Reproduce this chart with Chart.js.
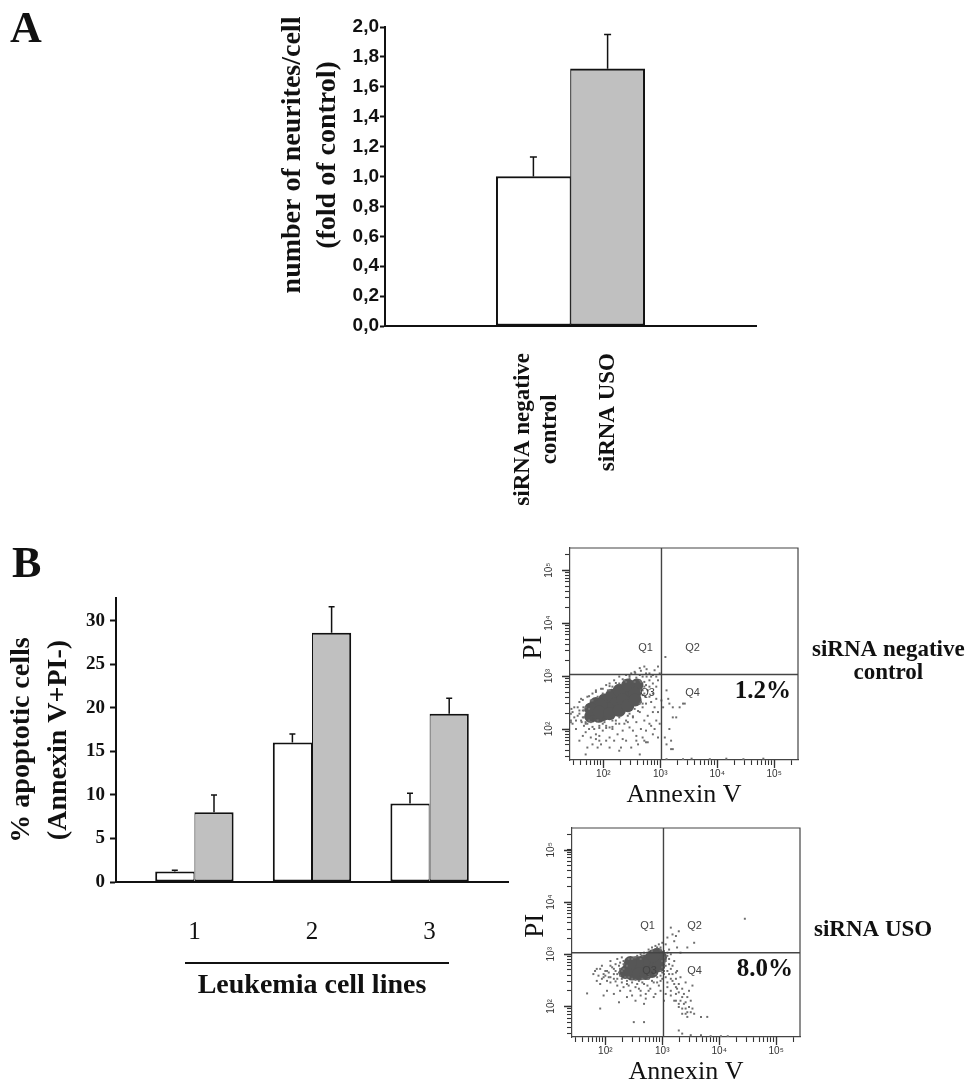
<!DOCTYPE html>
<html><head><meta charset="utf-8">
<script src="https://cdn.jsdelivr.net/npm/chart.js@4"></script>
<style>
html,body{margin:0;padding:0;background:#fff;overflow:hidden;}
body{width:974px;height:1085px;position:relative;}
canvas{position:absolute;}
</style></head><body>
<canvas id="cA" width="780" height="530" style="left:0;top:0"></canvas>
<canvas id="cB" width="530" height="500" style="left:0;top:530px"></canvas>
<canvas id="cF1" width="469" height="280" style="left:505px;top:535px"></canvas>
<canvas id="cF2" width="469" height="270" style="left:507px;top:815px"></canvas>
<script>
// ---------------- DATA ----------------
// Panel A
const aCategories = [['siRNA negative', 'control'], ['siRNA USO']];
const aValues = [1.00, 1.72];
const aErrors = [0.13, 0.23];

// Panel B bar chart
const bCategories = ['1', '2', '3'];
const bSeries = ['siRNA negative control', 'siRNA USO'];
const bControl = [1.2, 16.0, 9.0];
const bControlErr = [0.15, 1.0, 1.2];
const bUSO = [8.0, 28.6, 19.3];
const bUSOErr = [2.0, 3.0, 1.8];

// Panel B flow cytometry (values given as log10 of fluorescence: [Annexin V, PI])
const facsRange = [26, 262144];
const facsGateAnnexin = 1050;
const facsGatePI = 1070;
const facsDecades = [1, 2, 3, 4, 5];
const facsMultipliers = [1, 2, 3, 4, 5, 6, 7, 8, 9];
const facsLabelDecades = [2, 3, 4, 5];
const f1Percent = '1.2%';
const f2Percent = '8.0%';
const f1Side = ['siRNA negative', 'control'];
const f2Side = ['siRNA USO'];

const f1Core = [[1.81,2.32],[1.93,2.38],[2.05,2.45],[2.16,2.51],[2.28,2.59],[2.40,2.67],[2.52,2.75],[2.59,2.83],
[1.99,2.27],[2.14,2.34],[2.28,2.41],[2.40,2.49],[2.49,2.59],[1.87,2.48],[2.02,2.55],[2.15,2.64],[2.28,2.73],
[2.43,2.83],[1.78,2.24],[1.92,2.24],[1.87,2.32],[2.22,2.48],[2.34,2.55],[2.08,2.38],[2.55,2.67],[1.96,2.45],[1.78,2.38],
[1.93,2.32],[2.11,2.29],[2.28,2.35],[2.43,2.44],[2.56,2.55]];
const f1Dots = [
[1.46,2.32],[1.49,2.22],[1.55,2.41],[1.58,2.51],[1.61,2.16],[1.64,2.35],[1.66,2.06],[1.52,2.00],[1.69,1.94],[1.58,1.78],
[1.75,2.00],[1.78,1.84],[1.87,1.90],[1.93,1.78],[1.72,1.65],[1.99,1.97],[2.05,2.06],[2.11,1.84],[2.16,2.00],[2.22,2.10],
[2.25,1.90],[2.34,1.97],[2.40,2.16],[2.46,2.03],[2.31,1.65],[2.52,2.22],[2.58,2.13],[2.64,2.32],[2.69,2.41],[2.75,2.48],
[2.78,2.25],[2.81,2.61],[2.87,2.67],[2.90,2.41],[2.93,2.80],[2.84,2.99],[2.75,3.05],[2.69,2.99],[2.90,3.11],[2.96,3.18],
[2.64,3.02],[2.58,2.97],[2.66,2.89],[2.75,2.83],[2.81,2.92],[2.87,2.86],[2.72,2.67],[2.78,2.73],[2.93,2.57],[2.96,2.32],
[2.99,2.10],[2.93,2.16],[2.87,1.90],[2.69,1.84],[2.58,1.87],[2.40,1.78],[2.49,1.65],[2.11,1.65],[1.96,1.71],[1.81,1.71],
[1.64,2.22],[1.69,2.41],[1.61,2.57],[1.72,2.61],[1.81,2.67],[1.87,2.73],[1.96,2.76],[2.05,2.83],[2.11,2.86],[2.19,2.92],
[2.28,2.99],[2.40,3.02],[2.49,3.05],[2.55,3.08],[2.64,3.15],[2.72,3.18],[3.09,3.36],[3.02,2.54],[3.05,2.41],[3.11,2.73],
[3.16,2.48],[3.22,2.22],[3.28,2.22],[3.34,2.41],[3.43,2.48],[3.16,2.00],[3.19,1.62],[3.08,1.84],[3.11,1.71],[2.72,1.78],
[2.61,1.71],[3.22,2.41],[3.40,2.48],[3.14,2.57],[3.19,1.78],[3.22,1.62],
[3.11,1.43],[3.40,1.43],[3.55,1.44],[3.87,1.43],[4.16,1.44],[4.46,1.43],[4.81,1.44],
[1.43,2.29],[1.43,2.13],[1.44,2.38],
[1.69,1.52],[1.90,1.65],[2.28,1.59],[2.64,1.52],[2.75,1.75],
[1.78,2.13],[1.90,2.16],[2.02,2.13],[2.16,2.16],[2.28,2.22],[2.46,2.29],[2.55,2.38],[2.66,2.51],[2.69,2.64],[2.72,2.80],
[2.66,2.73],[1.66,2.22],[1.69,2.13],[1.58,2.29],[1.75,2.38],[1.78,2.54],[1.90,2.61],[1.99,2.67],[2.08,2.73],[2.16,2.80],
[2.28,2.86],[2.37,2.92],[2.46,2.96],[2.55,2.89],[2.81,2.80],[2.84,2.51],[2.87,2.32],[2.81,2.10],[2.72,2.16],[2.66,2.00],
[2.52,1.97],[2.37,2.10],[2.11,2.03],[1.93,2.06],[1.84,2.00],[1.72,2.10],
[1.69,2.10],[1.81,2.04],[1.93,2.02],[2.05,2.02],[2.16,2.04],[2.28,2.10],[2.43,2.13],[2.52,2.24],[2.61,2.34],[2.69,2.48],
[2.74,2.61],[1.64,2.55],[1.75,2.62],[1.87,2.70],[1.99,2.76],[2.11,2.81],[2.22,2.87],[2.34,2.94],[2.46,3.00],[2.56,3.06],
[2.66,3.10],[2.76,3.13],[2.72,2.89],[2.76,2.99],[2.81,3.05],[2.87,3.02],[2.93,2.99],[2.96,2.92],[2.99,3.05],
[1.58,2.35],[1.55,2.25],[1.62,2.13],[1.65,2.41],[1.75,2.16],[1.99,2.10],[2.22,2.16],[2.43,2.25],[2.64,2.48],[2.69,2.73],
[2.64,2.92],[2.40,2.89],[2.11,2.73],[1.81,2.54],[1.66,2.35],[1.52,2.16],[1.46,2.10],[1.64,1.87],[1.87,1.81],[2.05,1.78],
[2.19,1.78],[2.34,1.81],[2.58,1.78],[2.75,1.97],[2.84,2.06],[2.90,2.00],[2.96,1.84],[2.78,1.75],[1.93,1.87],[1.49,2.41],
[1.43,2.16]];

const f2Core = [[2.41,2.72],[2.53,2.72],[2.65,2.73],[2.76,2.78],[2.88,2.84],[2.97,2.94],[2.91,3.00],[2.79,2.91],
[2.68,2.87],[2.56,2.84],[2.47,2.62],[2.59,2.62],[2.71,2.63],[2.82,2.67],[2.35,2.65],[2.44,2.84],[2.94,2.78],[2.84,2.97]];
const f2Dots = [
[1.79,2.62],[1.82,2.68],[1.88,2.59],[1.91,2.72],[1.94,2.53],[1.97,2.62],[2.03,2.68],[2.06,2.56],[2.09,2.46],[2.12,2.75],
[2.15,2.62],[2.18,2.68],[2.21,2.53],[2.24,2.78],[2.26,2.59],[2.29,2.46],[2.32,2.81],[2.38,2.49],[2.41,2.40],[2.47,2.46],
[2.53,2.37],[2.59,2.49],[2.62,2.30],[2.68,2.43],[2.71,2.24],[2.76,2.53],[2.79,2.34],[2.85,2.46],[2.88,2.24],[2.91,2.56],
[2.94,2.40],[2.97,2.49],[3.00,2.65],[3.03,2.78],[1.91,2.43],[2.03,2.30],[2.15,2.24],[2.26,2.30],[2.38,2.18],[2.53,2.11],
[2.68,2.05],[1.68,2.25],[1.91,1.96],[2.50,1.70],[2.68,1.70],[2.24,2.08],[1.97,2.21],[1.85,2.49],[2.09,2.87],[2.21,2.91],
[2.29,2.94],[2.76,3.09],[2.82,3.13],[2.88,3.16],[2.94,3.19],[2.97,3.13],[3.00,3.22],[2.68,3.03],[2.62,3.00],[2.56,2.97],
[2.50,2.94],
[3.06,3.19],[3.09,3.32],[3.15,3.51],[3.18,3.38],[3.21,3.25],[3.24,3.35],[3.29,3.44],[3.26,3.13],[3.12,3.09],[3.44,3.13],
[3.56,3.22],[3.32,3.03],[4.45,3.68],
[3.03,2.94],[3.06,2.87],[3.09,2.97],[3.12,2.81],[3.15,2.72],[3.18,2.62],[3.21,2.87],[3.24,2.53],[3.26,2.68],[3.29,2.43],
[3.32,2.56],[3.35,2.34],[3.38,2.24],[3.41,2.46],[3.44,2.18],[3.47,2.30],[3.50,2.11],[3.53,2.40],[3.38,2.05],[3.41,1.96],
[3.44,1.89],[3.35,1.86],[3.29,1.99],[3.21,2.11],[3.15,2.30],[3.09,2.46],[3.06,2.24],[3.03,2.11],[3.24,2.24],[3.32,2.11],
[3.53,1.96],[3.79,1.80],[3.68,1.80],[3.56,1.86],[3.15,2.53],[3.21,2.43],[3.26,2.34],[3.09,2.68],
[3.29,1.54],[3.35,1.48],[3.50,1.45],[3.68,1.45],[3.85,1.43],[4.03,1.43],[4.15,1.43],
[2.35,2.56],[2.29,2.68],[2.38,2.78],[2.41,2.56],[2.53,2.51],[2.65,2.53],[2.76,2.59],[2.88,2.62],[2.97,2.68],[3.00,2.87],
[2.62,2.91],[2.47,2.91],[2.26,2.72],[2.21,2.62],[2.15,2.53],[2.03,2.49],[2.00,2.59],
[1.85,2.72],[1.94,2.78],[2.00,2.68],[2.09,2.78],[2.18,2.81],[2.26,2.84],[2.32,2.72],[2.24,2.65],[2.15,2.72],[2.06,2.65],
[1.97,2.56],[2.09,2.56],[2.18,2.48],[2.29,2.53],[2.38,2.43],[2.47,2.53],[2.56,2.43],[2.65,2.46],[2.74,2.40],[2.82,2.49],
[2.91,2.46],[3.00,2.53],[2.97,2.59],[3.03,2.62],[3.03,2.68],[3.00,2.75],[3.04,2.84],[2.59,2.34],[2.44,2.30],[2.32,2.37],
[2.21,2.40],[2.76,2.30],[2.85,2.18],[2.97,2.30],[2.71,2.15],[2.62,2.21],[2.47,2.21],[2.82,3.06],[2.74,3.03],[2.65,2.97],
[2.53,2.94],[2.41,2.91],[2.32,2.87],[3.03,3.06],[2.97,3.09],[2.91,3.13],
[3.06,2.56],[3.12,2.62],[3.18,2.49],[3.24,2.37],[3.29,2.27],[3.35,2.18],[3.41,2.08],[3.47,1.99],[3.50,1.89],[3.09,2.37],
[3.15,2.21],[3.24,2.11],[3.29,2.05],[3.35,1.96],[3.41,1.86],[3.44,1.80],[3.12,2.91],[3.18,2.78],[3.24,2.65],[3.06,2.78],
[3.09,3.03],[3.15,3.00]];

// ---------------- STYLE ----------------
const SERIF = '"Liberation Serif", "Times New Roman", serif';
const SANS = '"Liberation Sans", Arial, sans-serif';
const INK = '#111';
Chart.defaults.font.family = SANS;
Chart.defaults.color = INK;
Chart.defaults.animation = false;
Chart.defaults.events = [];
Chart.defaults.plugins.legend.display = false;
Chart.defaults.plugins.tooltip.enabled = false;

const SUP = {1: '\u00B9', 2: '\u00B2', 3: '\u00B3', 4: '\u2074', 5: '\u2075'};
const isDecade = v => Math.abs(Math.log10(v) - Math.round(Math.log10(v))) < 1e-9;
const supLabel = v => '10' + SUP[Math.round(Math.log10(v))];
const facsTicks = [];
facsDecades.forEach(d => facsMultipliers.forEach(m => {
  const v = m * Math.pow(10, d);
  if (v > facsRange[0] && v < facsRange[1]) facsTicks.push(v);
}));

// ---------------- PLUGINS ----------------
function errorBars(cfg) {
  return { id: 'errorBars', afterDatasetsDraw(chart) {
    const ctx = chart.ctx, y = chart.scales.y;
    chart.data.datasets.forEach((ds, di) => {
      if (!ds.errors) return;
      chart.getDatasetMeta(di).data.forEach((bar, i) => {
        const top = y.getPixelForValue(ds.data[i].y + ds.errors[i]);
        ctx.save();
        ctx.strokeStyle = INK; ctx.lineWidth = cfg.width;
        ctx.beginPath();
        ctx.moveTo(bar.x, bar.y); ctx.lineTo(bar.x, top);
        ctx.moveTo(bar.x - cfg.cap / 2, top); ctx.lineTo(bar.x + cfg.cap / 2, top);
        ctx.stroke(); ctx.restore();
      });
    });
  }};
}
function freeText(items) {
  return { id: 'freeText', afterDraw(chart) {
    const ctx = chart.ctx;
    items.forEach(it => {
      ctx.save();
      ctx.font = it.font; ctx.fillStyle = INK;
      ctx.textAlign = it.align || 'center'; ctx.textBaseline = it.baseline || 'middle';
      ctx.translate(it.x, it.y);
      if (it.rot) ctx.rotate(it.rot * Math.PI / 180);
      [].concat(it.text).forEach((l, j) => ctx.fillText(l, 0, j * (it.lh || 0)));
      ctx.restore();
    });
  }};
}
function catLabels(cfg) {
  return { id: 'catLabels', afterDraw(chart) {
    const ctx = chart.ctx, x = chart.scales.x, top = chart.chartArea.bottom + cfg.gap;
    aCategories.forEach((lines, i) => {
      const px = x.getPixelForValue(i + 1);
      ctx.save();
      ctx.font = cfg.font; ctx.fillStyle = INK; ctx.textAlign = 'center'; ctx.textBaseline = 'middle';
      const w = Math.max(...lines.map(l => ctx.measureText(l).width));
      ctx.translate(px, top); ctx.rotate(-Math.PI / 2);
      lines.forEach((l, j) => ctx.fillText(l, -w / 2, (j - (lines.length - 1) / 2) * cfg.lh + (lines.length > 1 ? cfg.shift : 0)));
      ctx.restore();
    });
  }};
}
const underline = { id: 'underline', afterDraw(chart) {
  const {ctx, chartArea: ca} = chart;
  const cx = (ca.left + ca.right) / 2 + 5, y = ca.bottom + 81;
  ctx.save(); ctx.strokeStyle = INK; ctx.lineWidth = 2;
  ctx.beginPath(); ctx.moveTo(cx - 132, y); ctx.lineTo(cx + 132, y); ctx.stroke(); ctx.restore();
}};
function facsDecor(cfg) {
  return { id: 'facsDecor', afterDraw(chart) {
    const {ctx, chartArea: ca, scales: {x, y}} = chart;
    ctx.save();
    ctx.strokeStyle = '#444'; ctx.lineWidth = 1.2;
    ctx.beginPath(); ctx.moveTo(ca.left, ca.top); ctx.lineTo(ca.right, ca.top); ctx.lineTo(ca.right, ca.bottom); ctx.stroke();
    // longer marks at the decades
    ctx.strokeStyle = '#333'; ctx.lineWidth = 1.3;
    ctx.beginPath();
    facsLabelDecades.forEach(p => {
      const v = Math.pow(10, p);
      const px = Math.round(x.getPixelForValue(v)) + 0.5, py = Math.round(y.getPixelForValue(v)) + 0.5;
      ctx.moveTo(px, ca.bottom); ctx.lineTo(px, ca.bottom + 8);
      ctx.moveTo(ca.left, py); ctx.lineTo(ca.left - 8, py);
    });
    ctx.stroke();
    ctx.fillStyle = '#333'; ctx.font = '10px ' + SANS; ctx.textAlign = 'center'; ctx.textBaseline = 'middle';
    facsLabelDecades.forEach(p => {
      const py = y.getPixelForValue(Math.pow(10, p));
      ctx.save(); ctx.translate(ca.left - 21, py); ctx.rotate(-Math.PI / 2);
      ctx.fillText(supLabel(Math.pow(10, p)), 0, 0); ctx.restore();
    });
    const gx = x.getPixelForValue(facsGateAnnexin), gy = y.getPixelForValue(facsGatePI);
    ctx.font = '11px ' + SANS; ctx.fillStyle = '#444';
    ctx.fillText('Q1', gx - 16, gy - 27);
    ctx.fillText('Q2', gx + 31, gy - 27);
    ctx.fillText('Q3', gx - 14, gy + 18);
    ctx.fillText('Q4', gx + 31, gy + 18);
    ctx.fillStyle = INK;
    ctx.font = 'bold 25px ' + SERIF; ctx.textAlign = 'right';
    ctx.fillText(cfg.pct, ca.right - 7, gy + 17);
    ctx.save(); ctx.translate(ca.left - 36, gy - 27); ctx.rotate(-Math.PI / 2);
    ctx.font = '27px ' + SERIF; ctx.textAlign = 'center'; ctx.fillText('PI', 0, 0); ctx.restore();
    ctx.font = 'bold 23px ' + SERIF; ctx.textAlign = 'center';
    const w = Math.max(...cfg.side.map(l => ctx.measureText(l).width));
    cfg.side.forEach((l, j) => ctx.fillText(l, ca.right + 14 + w / 2, ca.top + 102 + j * 23));
    ctx.restore();
  }};
}

// ---------------- PANEL A ----------------
new Chart(document.getElementById('cA'), {
  type: 'bar',
  data: { datasets: [{
    data: aValues.map((v, i) => ({x: i + 1, y: v})),
    errors: aErrors,
    backgroundColor: ['#ffffff', '#c0c0c0'],
    borderColor: INK,
    borderWidth: c => c.dataIndex === 0 ? {top: 2, left: 2, right: 1, bottom: 2} : {top: 2, left: 1, right: 2, bottom: 2},
    borderSkipped: false, barPercentage: 1, categoryPercentage: 1
  }]},
  options: {
    responsive: false,
    layout: {padding: {left: 278, top: 27, right: 24, bottom: 4}},
    scales: {
      x: {type: 'linear', min: -1, max: 4, offset: false,
          afterBuildTicks: s => { s.ticks = aCategories.map((c, i) => ({value: i + 1})); },
          grid: {display: false, drawTicks: false}, ticks: {display: false},
          border: {display: true, color: INK, width: 2},
          afterFit: s => { s.height = 200; }},
      y: {min: 0, max: 2,
          ticks: {stepSize: 0.2, padding: 1, color: INK, font: {family: SANS, size: 19, weight: 'bold'},
                  callback: v => Number(v).toFixed(1).replace('.', ',')},
          grid: {drawOnChartArea: false, drawTicks: true, tickLength: 5, tickWidth: 2, tickColor: INK},
          border: {color: INK, width: 2},
          afterFit: s => { s.width = 107; }}
    }
  },
  plugins: [errorBars({width: 1.5, cap: 7}), catLabels({gap: 27, font: 'bold 23px ' + SERIF, lh: 27, shift: 3}),
    freeText([
      {text: 'A', x: 10, y: 42, font: 'bold 44px ' + SERIF, align: 'left', baseline: 'alphabetic'},
      {text: ['number of neurites/cell', '(fold of control)'], x: 293, y: 155, rot: -90, lh: 35, font: 'bold 28px ' + SERIF}
    ])]
});

// ---------------- PANEL B (bars) ----------------
new Chart(document.getElementById('cB'), {
  type: 'bar',
  data: { datasets: [
    {label: bSeries[0], data: bControl.map((v, i) => ({x: i + 1, y: v})), errors: bControlErr,
     backgroundColor: '#ffffff', borderColor: INK, borderWidth: {top: 2, left: 2, right: 1, bottom: 2},
     borderSkipped: false, barPercentage: 1, categoryPercentage: 2 / 3},
    {label: bSeries[1], data: bUSO.map((v, i) => ({x: i + 1, y: v})), errors: bUSOErr,
     backgroundColor: '#c0c0c0', borderColor: INK, borderWidth: {top: 2, left: 1, right: 2, bottom: 2},
     borderSkipped: false, barPercentage: 1, categoryPercentage: 2 / 3}
  ]},
  options: {
    responsive: false,
    layout: {padding: {left: 0, top: 68, right: 22, bottom: 0}},
    scales: {
      x: {type: 'linear', min: 1 / 3, max: 11 / 3, offset: false,
          afterBuildTicks: s => { s.ticks = bCategories.map((c, i) => ({value: i + 1})); },
          ticks: {autoSkip: false, maxRotation: 0, padding: 35, color: INK, font: {family: SERIF, size: 25},
                  callback: (v, i) => bCategories[i]},
          grid: {display: false, drawTicks: false},
          border: {display: true, color: INK, width: 2},
          title: {display: true, text: 'Leukemia cell lines', color: INK,
                  font: {family: SERIF, size: 28, weight: 'bold'}, padding: {top: 0, bottom: 27}},
          afterFit: s => { s.height = 148; }},
      y: {min: 0, max: 32.6,
          ticks: {stepSize: 5, includeBounds: false, padding: 5, color: INK, font: {family: SERIF, size: 19, weight: 'bold'}},
          grid: {drawOnChartArea: false, drawTicks: true, tickLength: 6, tickWidth: 2, tickColor: INK},
          border: {color: INK, width: 2},
          title: {display: true, text: ['% apoptotic cells', '(Annexin V+PI-)'], color: INK,
                  font: {family: SERIF, size: 28, weight: 'bold', lineHeight: 1.3}, padding: {top: 4, bottom: 0}},
          afterFit: s => { s.width = 116; }}
    }
  },
  plugins: [errorBars({width: 1.5, cap: 6}), underline,
    freeText([{text: 'B', x: 12, y: 47, font: 'bold 44px ' + SERIF, align: 'left', baseline: 'alphabetic'}])]
});

// ---------------- PANEL B (flow cytometry) ----------------
function facsAxis(extra) {
  return Object.assign({
    type: 'logarithmic', min: facsRange[0], max: facsRange[1],
    afterBuildTicks: s => { s.ticks = facsTicks.map(v => ({value: v})); },
    grid: {drawOnChartArea: false, drawTicks: true, tickLength: 5, tickColor: '#333', tickWidth: 1.1},
    border: {color: '#444', width: 1.2}
  }, extra);
}
function facsChart(id, core, dots, pct, side, lay) {
  const pts = a => a.map(p => ({x: Math.pow(10, p[0]), y: Math.pow(10, p[1])}));
  return new Chart(document.getElementById(id), {
    type: 'scatter',
    data: { datasets: [
      {type: 'line', data: [{x: facsGateAnnexin, y: facsRange[0]}, {x: facsGateAnnexin, y: facsRange[1]}],
       borderColor: '#444', borderWidth: 1.4, pointRadius: 0, showLine: true},
      {type: 'line', data: [{x: facsRange[0], y: facsGatePI}, {x: facsRange[1], y: facsGatePI}],
       borderColor: '#444', borderWidth: 1.4, pointRadius: 0, showLine: true},
      {data: pts(dots), pointStyle: 'rect', pointRadius: 1.4, backgroundColor: '#6e6e6e', borderWidth: 0},
      {data: pts(core), pointRadius: 6.5, backgroundColor: '#565656', borderWidth: 0}
    ]},
    options: {
      responsive: false,
      layout: {padding: {left: 0, top: 13, right: 176, bottom: 0}},
      scales: {
        x: facsAxis({position: 'bottom',
          ticks: {autoSkip: false, maxRotation: 0, padding: 3, color: '#333', font: {family: SANS, size: 10},
                  callback: v => isDecade(v) ? supLabel(v) : ''},
          title: {display: true, text: 'Annexin V', color: INK, font: {family: SERIF, size: 26, lineHeight: 1},
                  padding: {top: 0, bottom: lay.titlePad}},
          afterFit: s => { s.height = lay.xh; }}),
        y: facsAxis({position: 'left', ticks: {display: false}, afterFit: s => { s.width = 65; }})
      }
    },
    plugins: [facsDecor({pct: pct, side: side})]
  });
}
facsChart('cF1', f1Core, f1Dots, f1Percent, f1Side, {xh: 55, titlePad: 7});
facsChart('cF2', f2Core, f2Dots, f2Percent, f2Side, {xh: 48, titlePad: 0});
</script>
</body></html>
